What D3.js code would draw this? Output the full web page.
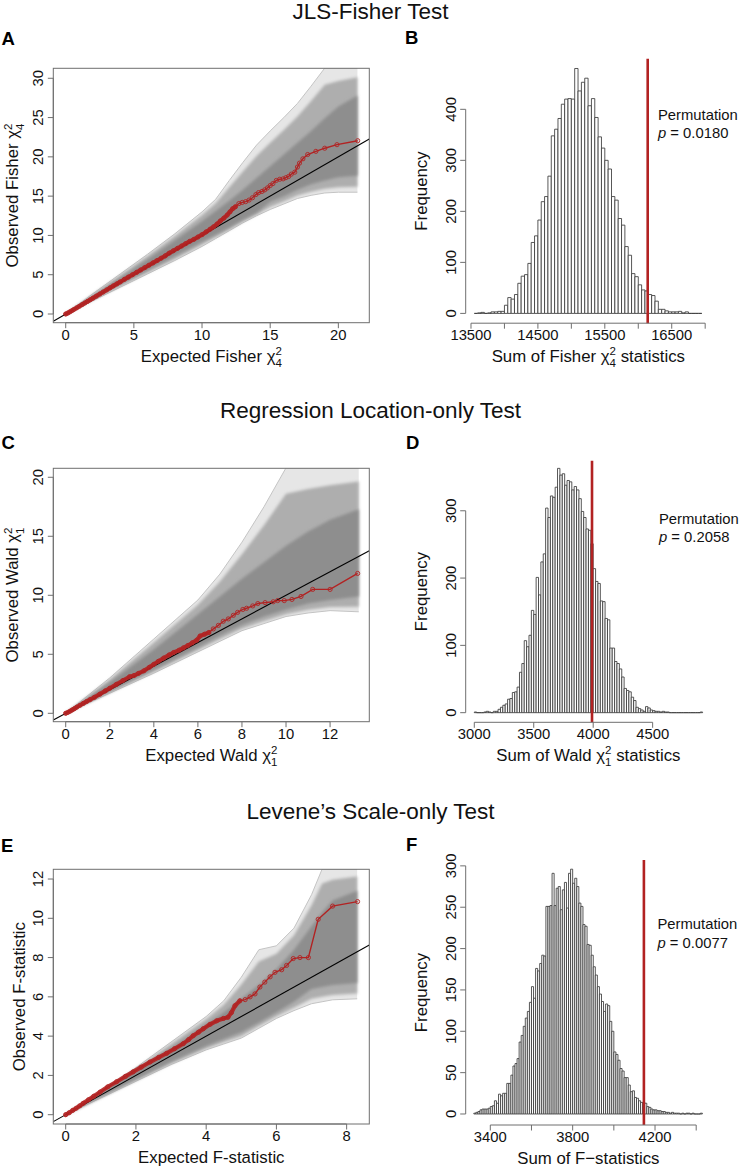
<!DOCTYPE html>
<html><head><meta charset="utf-8">
<script src="https://cdn.jsdelivr.net/npm/d3@7/dist/d3.min.js"></script>
<style>
body{margin:0;background:#fff;}
svg{font-family:"Liberation Sans", Arial, Helvetica, sans-serif;}
</style></head><body>
<svg id="chart" width="741" height="1170"></svg>
<script>
// ---------------- DATA ----------------
const titles = ["JLS-Fisher Test", "Regression Location-only Test", "Levene\u2019s Scale-only Test"];
const letters = ["A", "B", "C", "D", "E", "F"];

// Panel A (QQ, Fisher chi2_4): envelope of permutation QQ lines
const qqA_knots     = [0, 2, 4, 6, 8, 10, 11, 12, 13, 14, 15, 16, 17, 18, 19, 20, 21.4];
const qqA_outerLow  = [0, 1.7, 3.4, 5.1, 6.8, 8.6, 9.6, 10.6, 11.6, 12.5, 13.3, 14.0, 14.7, 15.1, 15.4, 15.5, 15.5];
const qqA_innerLow  = [0, 1.9, 3.75, 5.55, 7.35, 9.2, 10.1, 11.0, 12.0, 12.9, 14.3, 15.0, 15.8, 16.5, 17.0, 17.4, 17.6];
const qqA_innerHigh = [0, 2.3, 4.6, 6.95, 9.35, 11.8, 13.1, 14.4, 15.8, 17.3, 18.8, 20.3, 21.8, 23.3, 24.9, 26.4, 27.8];
const qqA_outerHigh = [0, 2.6, 5.1, 7.6, 10.2, 13.0, 14.6, 17.0, 19.3, 21.5, 23.3, 25.0, 26.8, 29.0, 31.3, 31.3, 31.3];
const qqA_observed  = [[0,0],[0.15,0.12],[0.3,0.27],[0.45,0.42],[0.6,0.58],[0.8,0.78],[1.0,0.98],[1.2,1.19],[1.4,1.4],[1.6,1.6],[1.8,1.81],[2.0,2.02],[2.25,2.28],[2.5,2.54],[2.75,2.8],[3.0,3.06],[3.25,3.32],[3.5,3.58],[3.75,3.83],[4.0,4.08],[4.3,4.4],[4.6,4.7],[4.9,5.0],[5.2,5.3],[5.5,5.6],[5.8,5.9],[6.1,6.2],[6.4,6.5],[6.7,6.8],[7.0,7.1],[7.3,7.4],[7.6,7.75],[7.9,8.05],[8.2,8.35],[8.5,8.65],[8.8,8.95],[9.1,9.25],[9.4,9.5],[9.7,9.8],[10.0,10.1],[10.3,10.45],[10.6,10.8],[10.85,11.1],[11.1,11.45],[11.35,11.85],[11.6,12.2],[11.85,12.6],[12.05,13.0],[12.25,13.4],[12.45,13.65],[12.7,14.05],[12.95,14.2],[13.2,14.3],[13.45,14.5],[13.7,14.8],[13.95,15.2],[14.15,15.45],[14.4,15.6],[14.6,15.8],[14.8,16.05],[15.0,16.35],[15.2,16.6],[15.45,17.0],[15.7,17.15],[15.95,17.2],[16.15,17.35],[16.35,17.5],[16.55,17.8],[16.8,18.05],[17.0,18.7],[17.15,19.2],[17.4,19.75],[17.75,20.3],[18.35,20.7],[19.0,21.1],[19.9,21.55],[21.42,22.05]];
const qqA_denseUpTo = 12.6;
const qqA_xTicks = [0, 5, 10, 15, 20];
const qqA_yTicks = [0, 5, 10, 15, 20, 25, 30];

// Panel C (QQ, Wald chi2_1)
const qqC_knots     = [0, 2, 4, 6, 7, 8, 9, 10, 11, 12, 13.3];
const qqC_outerLow  = [0, 1.7, 3.4, 5.2, 6.1, 7.0, 7.6, 8.2, 8.5, 8.7, 8.6];
const qqC_innerLow  = [0, 1.85, 3.7, 5.6, 6.6, 7.5, 8.2, 8.8, 9.3, 9.6, 9.9];
const qqC_innerHigh = [0, 2.6, 5.4, 8.4, 9.9, 11.4, 12.8, 14.2, 15.4, 16.4, 17.3];
const qqC_outerHigh = [0, 3.0, 6.3, 9.6, 11.8, 14.5, 17.5, 20.8, 20.8, 20.8, 20.8];
const qqC_observed  = [[0,0],[0.1,0.08],[0.2,0.18],[0.3,0.29],[0.4,0.4],[0.5,0.52],[0.65,0.68],[0.8,0.84],[0.95,1.0],[1.1,1.15],[1.3,1.35],[1.55,1.62],[1.8,1.9],[2.0,2.12],[2.3,2.45],[2.6,2.78],[2.9,3.1],[3.1,3.2],[3.3,3.38],[3.55,3.6],[3.8,3.9],[4.0,4.15],[4.2,4.4],[4.45,4.68],[4.7,4.95],[4.9,5.15],[5.15,5.35],[5.35,5.55],[5.55,5.75],[5.75,5.98],[5.95,6.2],[6.1,6.55],[6.3,6.7],[6.5,6.85],[6.7,7.15],[6.93,7.45],[7.15,7.8],[7.38,8.0],[7.61,8.3],[7.8,8.55],[8.04,8.8],[8.21,8.9],[8.49,9.1],[8.72,9.3],[9.05,9.38],[9.42,9.45],[9.62,9.55],[9.92,9.55],[10.27,9.65],[10.68,9.9],[11.21,10.5],[12.0,10.5],[13.25,11.85]];
const qqC_denseUpTo = 6.6;
const qqC_xTicks = [0, 2, 4, 6, 8, 10, 12];
const qqC_yTicks = [0, 5, 10, 15, 20];

// Panel E (QQ, F-statistic)
const qqE_knots     = [0, 1, 2, 3, 4, 4.5, 5, 5.5, 6, 6.5, 7, 7.3, 7.6, 8.3];
const qqE_outerLow  = [0, 0.85, 1.7, 2.55, 3.3, 3.6, 3.9, 4.4, 4.9, 5.3, 5.65, 5.75, 5.85, 5.9];
const qqE_innerLow  = [0, 0.9, 1.8, 2.7, 3.5, 3.85, 4.2, 4.7, 5.2, 5.75, 6.4, 6.5, 6.6, 6.7];
const qqE_innerHigh = [0, 1.1, 2.25, 3.4, 4.6, 5.2, 5.9, 6.6, 7.4, 8.4, 9.6, 10.3, 10.9, 11.4];
const qqE_outerHigh = [0, 1.15, 2.4, 3.7, 5.0, 5.8, 7.0, 8.4, 8.6, 9.5, 11.2, 12.5, 12.5, 12.5];
const qqE_observed  = [[0,0],[0.1,0.1],[0.2,0.22],[0.3,0.33],[0.4,0.45],[0.5,0.58],[0.65,0.76],[0.8,0.94],[0.98,1.15],[1.2,1.42],[1.45,1.68],[1.7,1.95],[1.92,2.18],[2.15,2.42],[2.4,2.68],[2.65,2.92],[2.87,3.12],[3.1,3.36],[3.35,3.62],[3.5,3.82],[3.63,4.02],[3.78,4.2],[3.92,4.38],[4.11,4.6],[4.3,4.78],[4.49,4.9],[4.62,4.96],[4.72,5.2],[4.82,5.55],[4.96,5.8],[5.11,5.86],[5.25,6.0],[5.39,6.15],[5.53,6.5],[5.67,6.75],[5.82,7.02],[5.96,7.25],[6.15,7.38],[6.29,7.6],[6.48,7.95],[6.67,8.0],[6.91,8.0],[7.19,9.95],[7.6,10.62],[8.31,10.85]];
const qqE_denseUpTo = 5.1;
const qqE_xTicks = [0, 2, 4, 6, 8];
const qqE_yTicks = [0, 2, 4, 6, 8, 10, 12];

// Panel B (histogram of summed Fisher statistics), bins of 50 from 13550
const histB_start = 13550, histB_width = 50;
const histB_counts = [0,1,2,0,1,3,3,4,4,
  16,31,28,37,59,73,76,98,139,152,
  183,219,229,269,348,361,382,410,420,421,
  420,480,436,453,461,407,421,384,346,324,
  300,283,229,222,186,173,131,114,78,72,
  56,46,44,37,35,24,8,8,5,3,
  3,3,4,1,3,0,0,0,0];
const histB_observed = 16141;
const histB_xTicks = [13500, 14000, 14500, 15000, 15500, 16000, 16500, 17000];
const histB_xLabels = [13500, 14500, 15500, 16500];
const histB_yTicks = [0, 100, 200, 300, 400];
const histB_p = "0.0180";

// Panel D (histogram of summed Wald statistics), bins of 20 from 3000
const histD_start = 3000, histD_width = 20;
const histD_counts = [1,0,0,0,1,2,1,0,2,2,
  5,8,11,13,20,21,30,31,38,60,
  73,107,98,115,152,146,201,175,224,236,
  304,290,322,320,335,363,353,355,338,345,
  343,331,336,331,318,299,290,273,271,251,
  214,195,192,166,165,140,138,96,96,76,
  73,65,53,36,33,31,23,18,8,6,
  4,2,9,7,4,3,2,2,1,2,
  1,1,0,0,0,0,0,0,0,0,
  0,0,0,0,0,1];
const histD_observed = 3990;
const histD_xTicks = [3000, 3500, 4000, 4500];
const histD_xLabels = [3000, 3500, 4000, 4500];
const histD_yTicks = [0, 100, 200, 300];
const histD_p = "0.2058";

// Panel F (histogram of summed F statistics), bins of 10 from 3320
const histF_start = 3320, histF_width = 10;
const histF_counts = [1,2,3,5,6,6,6,7,9,10,
  16,13,24,22,25,25,37,37,47,58,
  61,67,87,95,106,116,124,135,154,140,
  176,173,182,192,191,251,251,252,291,252,
  273,275,247,271,280,249,291,296,279,285,
  275,255,251,229,227,205,204,192,178,168,
  154,145,136,124,133,131,112,100,75,72,
  65,55,52,44,44,35,27,28,20,19,
  16,14,14,13,9,8,6,5,5,4,
  4,3,3,2,2,1,2,1,1,1,
  0,1,0,1,1,0,1,0,0,0,
  1];
const histF_observed = 4146;
const histF_xTicks = [3400, 3600, 3800, 4000, 4200, 4400];
const histF_xLabels = [3400, 3800, 4200];
const histF_yTicks = [0, 50, 100, 150, 200, 250, 300];
const histF_p = "0.0077";

// ---------------- LAYOUT ----------------
const RED = "#B22222";
const AXIS = "#6f6f6f";
const TICK_FS = 14.8, LAB_FS = 16.8;
const svg = d3.select("#chart");
const defs = svg.append("defs");
defs.append("filter").attr("id", "soft").attr("x", "-20%").attr("y", "-20%").attr("width", "140%").attr("height", "140%")
  .append("feGaussianBlur").attr("stdDeviation", 1.6);

// titles
[[titles[0], 18.5], [titles[1], 418.3], [titles[2], 819.3]].forEach(([t, y]) => {
  svg.append("text").attr("x", 370.5).attr("y", y).attr("text-anchor", "middle")
    .attr("font-size", 22.5).attr("fill", "#111").text(t);
});
// panel letters
[[1.5, 45], [405, 43.5], [1.5, 449.3], [406, 449.3], [1, 852], [406, 851]].forEach(([x, y], i) => {
  svg.append("text").attr("x", x).attr("y", y).attr("font-size", 18.5).attr("font-weight", "bold")
    .attr("fill", "#000").text(letters[i]);
});

// text with stacked super/subscript parts
function mathText(parent, parts, fs) {
  const t = parent.append("text").attr("text-anchor", "middle").attr("font-size", fs).attr("fill", "#111");
  let cur = 0;
  const sfs = 11.5, sw = 0.556 * sfs;
  parts.forEach(p => {
    if (typeof p === "string") {
      t.append("tspan").attr("dy", 0 - cur).text(p); cur = 0;
    } else {
      t.append("tspan").attr("font-size", sfs).attr("dy", -6.5 - cur).text(p.sup); cur = -6.5;
      t.append("tspan").attr("font-size", sfs).attr("dx", -sw).attr("dy", 5.5 - cur).text(p.sub); cur = 5.5;
    }
  });
  return t;
}

function leftAxis(y, x0, ticks, labels) {
  const g = svg.append("g").attr("transform", `translate(${x0},0)`);
  g.append("line").attr("x1", 0).attr("x2", 0).attr("y1", y(ticks[0])).attr("y2", y(ticks[ticks.length - 1]))
    .attr("stroke", AXIS).attr("stroke-width", 1);
  ticks.forEach(v => {
    g.append("line").attr("x1", 0).attr("x2", -5.5).attr("y1", y(v)).attr("y2", y(v)).attr("stroke", AXIS);
    if (!labels || labels.includes(v))
      g.append("text").attr("transform", `translate(-10,${y(v)}) rotate(-90)`).attr("text-anchor", "middle")
        .attr("font-size", TICK_FS).attr("fill", "#111").text(String(v));
  });
}
function bottomAxis(x, y0, ticks, labels, labOff) {
  const g = svg.append("g").attr("transform", `translate(0,${y0})`);
  g.append("line").attr("y1", 0).attr("y2", 0).attr("x1", x(ticks[0])).attr("x2", x(ticks[ticks.length - 1]))
    .attr("stroke", AXIS).attr("stroke-width", 1);
  ticks.forEach(v => {
    g.append("line").attr("y1", 0).attr("y2", 5.5).attr("x1", x(v)).attr("x2", x(v)).attr("stroke", AXIS);
    if (!labels || labels.includes(v))
      g.append("text").attr("x", x(v)).attr("y", labOff).attr("text-anchor", "middle")
        .attr("font-size", TICK_FS).attr("fill", "#111").text(String(v));
  });
}

function drawQQ(L, knots, oLow, iLow, iHigh, oHigh, obs, dense, xTicks, yTicks) {
  const x = d3.scaleLinear().domain(L.xDomain).range([L.left, L.right]);
  const y = d3.scaleLinear().domain(L.yDomain).range([L.bottom, L.top]);
  defs.append("clipPath").attr("id", "clip" + L.name).append("rect")
    .attr("x", L.left).attr("y", L.top).attr("width", L.right - L.left).attr("height", L.bottom - L.top);
  const g = svg.append("g").attr("clip-path", `url(#clip${L.name})`);
  const pts = knots.map((k, i) => ({ k, ol: oLow[i], il: iLow[i], ih: iHigh[i], oh: oHigh[i] }));
  // sparse outer permutation lines
  g.append("path").datum(pts).attr("fill", "#e6e6e6")
    .attr("d", d3.area().x(d => x(d.k)).y0(d => y(d.ol)).y1(d => y(d.oh)));
  ["oh", "ol"].forEach(key => {
    g.append("path").datum(pts).attr("fill", "none").attr("stroke", "#c4c4c4").attr("stroke-width", 1)
      .attr("d", d3.line().x(d => x(d.k)).y(d => y(d[key])));
  });
  // transition band
  g.append("path").datum(pts).attr("fill", "#aeaeae")
    .attr("d", d3.area().x(d => x(d.k)).y0(d => y((2 * d.ol + d.il) / 3)).y1(d => y((2 * d.oh + d.ih) / 3)))
    .attr("filter", "url(#soft)");
  // dense core
  g.append("path").datum(pts).attr("fill", "#8e8e8e")
    .attr("d", d3.area().x(d => x(d.k)).y0(d => y(d.il)).y1(d => y(d.ih)))
    .attr("filter", "url(#soft)");
  // reference line y = x
  g.append("line").attr("x1", x(L.xDomain[0])).attr("y1", y(L.xDomain[0]))
    .attr("x2", x(L.xDomain[1])).attr("y2", y(L.xDomain[1])).attr("stroke", "#000").attr("stroke-width", 1.1);
  // observed QQ: dense part appears as a thick band of overlapping circles
  g.append("path").datum(obs.filter(d => d[0] <= dense)).attr("fill", "none").attr("stroke", RED)
    .attr("stroke-width", 4.2).attr("stroke-linecap", "round").attr("stroke-linejoin", "round").attr("opacity", 0.9)
    .attr("d", d3.line().x(d => x(d[0])).y(d => y(d[1])));
  g.append("path").datum(obs).attr("fill", "none").attr("stroke", RED).attr("stroke-width", 1.4)
    .attr("d", d3.line().x(d => x(d[0])).y(d => y(d[1])));
  g.selectAll("circle.obs").data(obs).join("circle").attr("class", "obs")
    .attr("cx", d => x(d[0])).attr("cy", d => y(d[1])).attr("r", 2.1)
    .attr("fill", "none").attr("stroke", RED).attr("stroke-width", 0.9);
  // box
  svg.append("rect").attr("x", L.left).attr("y", L.top).attr("width", L.right - L.left).attr("height", L.bottom - L.top)
    .attr("fill", "none").attr("stroke", AXIS).attr("stroke-width", 1);
  bottomAxis(x, L.bottom, xTicks, null, 17);
  leftAxis(y, L.left, yTicks, null);
  const xl = svg.append("g").attr("transform", `translate(${(L.left + L.right) / 2},${L.bottom + 39})`);
  mathText(xl, L.xlab, LAB_FS);
  const yl = svg.append("g").attr("transform", `translate(${L.ylabX},${(L.top + L.bottom) / 2}) rotate(-90)`);
  mathText(yl, L.ylab, LAB_FS);
}

function drawHist(L, start, width, counts, observed, xTicks, xLabels, yTicks, pval) {
  const x = d3.scaleLinear().domain(L.xDomain).range([L.left, L.right]);
  const y = d3.scaleLinear().domain(L.yDomain).range([L.bottom, L.top]);
  const bins = counts.map((c, i) => ({ x0: start + i * width, x1: start + (i + 1) * width, c }));
  svg.append("g").selectAll("path").data(bins).join("path")
    .attr("d", d => `M${x(d.x0)},${y(0)}V${y(d.c)}H${x(d.x1)}V${y(0)}Z`)
    .attr("fill", "#fff").attr("stroke", "#3a3a3a").attr("stroke-width", 0.85);
  svg.append("line").attr("x1", x(observed)).attr("x2", x(observed)).attr("y1", L.top).attr("y2", L.bottom)
    .attr("stroke", RED).attr("stroke-width", 2.6);
  bottomAxis(x, L.bottom, xTicks, xLabels, 16.7);
  leftAxis(y, L.left, yTicks, null);
  const xl = svg.append("g").attr("transform", `translate(${(L.left + L.right) / 2},${L.bottom + 38.5})`);
  mathText(xl, L.xlab, LAB_FS);
  svg.append("text").attr("transform", `translate(427,${(L.top + L.bottom) / 2}) rotate(-90)`)
    .attr("text-anchor", "middle").attr("font-size", LAB_FS).attr("fill", "#111").text("Frequency");
  const tx = svg.append("text").attr("x", L.textX).attr("y", L.textY).attr("font-size", TICK_FS).attr("fill", "#111");
  tx.text("Permutation");
  const tp = svg.append("text").attr("x", L.textX).attr("y", L.textY + 18.3).attr("font-size", TICK_FS).attr("fill", "#111");
  tp.append("tspan").attr("font-style", "italic").text("p");
  tp.append("tspan").text(" = " + pval);
}

drawQQ({ name: "A", left: 53.3, right: 369.3, top: 68.3, bottom: 322.7, xDomain: [-0.91, 22.27], yDomain: [-1.107, 31.27],
  xlab: ["Expected Fisher \u03c7", { sup: "2", sub: "4" }], ylab: ["Observed Fisher \u03c7", { sup: "2", sub: "4" }], ylabX: 18.3 },
  qqA_knots, qqA_outerLow, qqA_innerLow, qqA_innerHigh, qqA_outerHigh, qqA_observed, qqA_denseUpTo, qqA_xTicks, qqA_yTicks);

drawQQ({ name: "C", left: 53.3, right: 369.3, top: 468.3, bottom: 721.7, xDomain: [-0.563, 13.78], yDomain: [-0.712, 20.76],
  xlab: ["Expected Wald \u03c7", { sup: "2", sub: "1" }], ylab: ["Observed Wald \u03c7", { sup: "2", sub: "1" }], ylabX: 18.3 },
  qqC_knots, qqC_outerLow, qqC_innerLow, qqC_innerHigh, qqC_outerHigh, qqC_observed, qqC_denseUpTo, qqC_xTicks, qqC_yTicks);

drawQQ({ name: "E", left: 53.3, right: 369.3, top: 869.3, bottom: 1124, xDomain: [-0.353, 8.645], yDomain: [-0.474, 12.495],
  xlab: ["Expected F-statistic"], ylab: ["Observed F-statistic"], ylabX: 25 },
  qqE_knots, qqE_outerLow, qqE_innerLow, qqE_innerHigh, qqE_outerHigh, qqE_observed, qqE_denseUpTo, qqE_xTicks, qqE_yTicks);

drawHist({ left: 465.7, right: 711, top: 58.8, bottom: 323.2, xDomain: [13421, 17087], yDomain: [-19.2, 499],
  xlab: ["Sum of Fisher \u03c7", { sup: "2", sub: "4" }, " statistics"], textX: 658, textY: 120 },
  histB_start, histB_width, histB_counts, histB_observed, histB_xTicks, histB_xLabels, histB_yTicks, histB_p);

drawHist({ left: 465.7, right: 711, top: 460.7, bottom: 722.3, xDomain: [2927.7, 4990.7], yDomain: [-14.3, 374.4],
  xlab: ["Sum of Wald \u03c7", { sup: "2", sub: "1" }, " statistics"], textX: 659, textY: 524 },
  histD_start, histD_width, histD_counts, histD_observed, histD_xTicks, histD_xLabels, histD_yTicks, histD_p);

drawHist({ left: 465.7, right: 711, top: 860, bottom: 1125, xDomain: [3280.5, 4471.9], yDomain: [-13.3, 307.1],
  xlab: ["Sum of F\u2212statistics"], textX: 657.5, textY: 929.3 },
  histF_start, histF_width, histF_counts, histF_observed, histF_xTicks, histF_xLabels, histF_yTicks, histF_p);
</script>
</body></html>
